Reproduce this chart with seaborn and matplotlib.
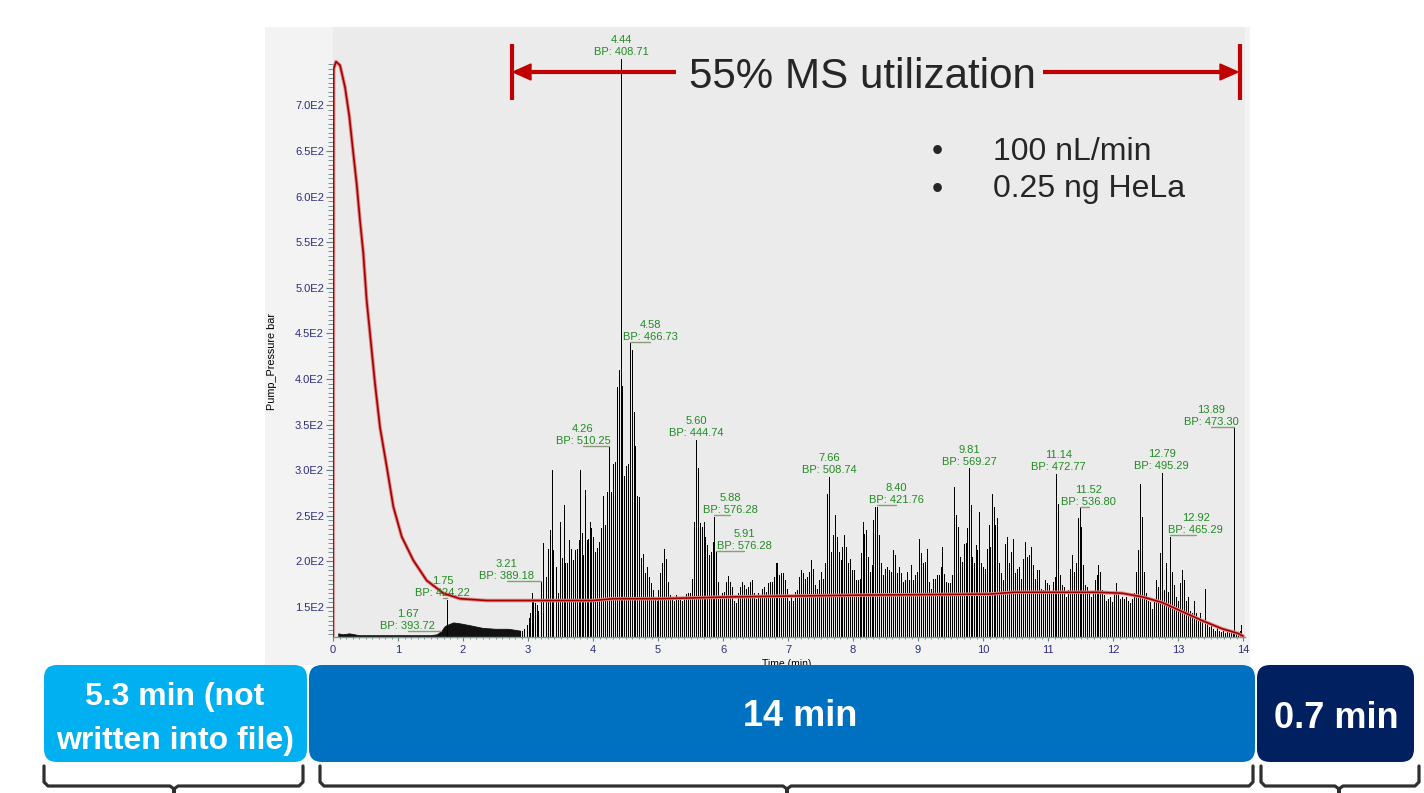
import numpy as np
import pandas as pd
import matplotlib
matplotlib.use("Agg")
import matplotlib.pyplot as plt
import seaborn as sns
from matplotlib.patches import Rectangle, FancyBboxPatch, Polygon
from matplotlib.ticker import MultipleLocator, FixedLocator, FuncFormatter

# ---------------- data ----------------
Y_MIN, Y_MAX = 117, 786
X_MAX = 14.03
Y_TICKS = [150, 200, 250, 300, 350, 400, 450, 500, 550, 600, 650, 700]
Y_MINOR_TOP = 745
X_TICKS = list(range(0, 15))

# pump pressure trace (min, bar)
PRESS_T = [0.0, 0.01, 0.046, 0.108, 0.185, 0.251, 0.313, 0.364, 0.415, 0.466, 0.518,
           0.569, 0.646, 0.723, 0.826, 0.928, 1.057, 1.236, 1.441, 1.697, 1.954, 2.364,
           2.979, 4.005, 4.313, 5.03, 6.14, 8.18, 10.09, 10.47, 11.77, 12.14, 12.45,
           12.75, 13.06, 13.37, 13.68, 13.92, 14.0]
PRESS_V = [117, 740, 748, 744, 720, 688, 647, 614, 574, 538, 486,
           450, 395, 347, 304, 260, 227, 201, 179, 165, 159, 157,
           157, 157, 159, 159, 161, 163, 164, 166, 166, 165, 161,
           155, 145, 135, 126, 121, 118]

# early low-level signal (0 - 2.9 min)
EARLY_T = [0.08, 0.15, 0.25, 0.4, 0.6, 0.8, 1.0, 1.2, 1.4, 1.5, 1.6, 1.67, 1.72,
           1.78, 1.85, 1.95, 2.1, 2.3, 2.5, 2.7, 2.877]
EARLY_V = [121, 120, 121, 119, 119, 119, 119, 119, 119, 119, 120, 124, 129,
           131, 133, 132, 130, 127, 126, 126, 124]
EARLY_SPIKE_T = [1.75]
EARLY_SPIKE_V = [158]

# chromatogram spikes, segment by segment
SPK_T_A = [2.877, 2.908, 2.938, 2.980, 3.010, 3.031, 3.056, 3.082, 3.108, 3.133, 3.159, 3.195,
           3.226, 3.277, 3.313, 3.339, 3.369, 3.390, 3.426, 3.456, 3.487, 3.518, 3.549, 3.574,
           3.605, 3.636, 3.667, 3.697, 3.728, 3.759, 3.779, 3.800, 3.826, 3.851, 3.882, 3.903,
           3.928, 3.954, 3.974, 4.005, 4.036, 4.067, 4.097, 4.128, 4.159, 4.190, 4.221, 4.246,
           4.277, 4.313, 4.344, 4.369, 4.400, 4.431, 4.451, 4.477, 4.508, 4.538, 4.569, 4.600,
           4.626, 4.651, 4.677, 4.708, 4.733, 4.764, 4.795, 4.826, 4.856, 4.887, 4.918, 4.949, 4.979]
SPK_V_A = [124, 124, 126, 130, 138, 143, 165, 155, 154, 152, 146, 177,
           220, 183, 214, 234, 300, 212, 194, 165, 243, 204, 262, 198,
           198, 223, 214, 201, 212, 214, 223, 300, 231, 207, 278, 223,
           225, 243, 237, 227, 210, 215, 221, 236, 272, 240, 276, 325,
           276, 307, 309, 391, 410, 751, 392, 294, 305, 307, 439, 432,
           364, 327, 272, 270, 204, 208, 187, 194, 183, 176, 168, 161, 157]

SPK_T_B = [5.005, 5.036, 5.062, 5.092, 5.123, 5.154, 5.185, 5.215, 5.246, 5.277, 5.313, 5.344,
           5.374, 5.405, 5.436, 5.467, 5.497, 5.528, 5.559, 5.585, 5.615, 5.641, 5.672, 5.703,
           5.728, 5.759, 5.790, 5.821, 5.846, 5.862, 5.892, 5.918, 5.949, 5.980, 6.010, 6.041,
           6.072, 6.103, 6.133, 6.164, 6.195, 6.226, 6.256, 6.287, 6.318, 6.349, 6.379, 6.410,
           6.441, 6.472, 6.503, 6.533, 6.564, 6.595, 6.626, 6.656, 6.687, 6.718, 6.749, 6.780,
           6.810, 6.836, 6.862, 6.892, 6.923, 6.954, 6.985]
SPK_V_B = [168, 187, 198, 213, 203, 177, 163, 161, 157, 163, 159, 161,
           157, 159, 164, 165, 165, 181, 243, 333, 302, 242, 238, 243,
           227, 218, 207, 210, 221, 249, 210, 177, 161, 165, 166, 177,
           184, 177, 172, 157, 154, 165, 172, 177, 174, 170, 172, 177,
           179, 165, 159, 165, 161, 170, 172, 166, 176, 177, 177, 183,
           198, 198, 185, 187, 187, 179, 170]

SPK_T_C = [7.015, 7.046, 7.077, 7.108, 7.138, 7.169, 7.200, 7.231, 7.262, 7.292, 7.323, 7.354,
           7.385, 7.415, 7.446, 7.477, 7.508, 7.538, 7.569, 7.600, 7.631, 7.656, 7.687, 7.718,
           7.749, 7.780, 7.810, 7.836, 7.862, 7.887, 7.918, 7.949, 7.980, 8.010, 8.041, 8.072,
           8.103, 8.128, 8.149, 8.174, 8.200, 8.226, 8.256, 8.287, 8.313, 8.338, 8.369, 8.400,
           8.431, 8.462, 8.492, 8.523, 8.554, 8.585, 8.615, 8.646, 8.677, 8.708, 8.738, 8.769,
           8.800, 8.831, 8.862, 8.892, 8.923, 8.954, 8.985]
SPK_V_C = [157, 161, 157, 166, 168, 183, 190, 187, 181, 183, 188, 201,
           192, 174, 170, 179, 188, 181, 198, 274, 293, 210, 229, 251,
           227, 210, 201, 216, 229, 216, 198, 203, 190, 190, 179, 179,
           181, 209, 243, 230, 234, 205, 188, 196, 245, 260, 260, 229,
           198, 185, 192, 194, 190, 188, 212, 207, 187, 194, 187, 177,
           179, 188, 179, 196, 179, 185, 188]

SPK_T_D = [9.015, 9.046, 9.077, 9.108, 9.138, 9.169, 9.200, 9.231, 9.262, 9.292, 9.323, 9.354,
           9.374, 9.405, 9.436, 9.467, 9.497, 9.528, 9.559, 9.590, 9.621, 9.651, 9.682, 9.708,
           9.733, 9.759, 9.785, 9.810, 9.836, 9.862, 9.887, 9.913, 9.938, 9.969, 10.000, 10.031,
           10.062, 10.092, 10.113, 10.138, 10.164, 10.190, 10.215, 10.246, 10.277, 10.308, 10.338,
           10.369, 10.400, 10.431, 10.456, 10.487, 10.518, 10.549, 10.579, 10.610, 10.641, 10.672,
           10.703, 10.733, 10.764, 10.795, 10.826, 10.856, 10.887, 10.918, 10.949, 10.980]
SPK_V_D = [224, 209, 198, 199, 213, 177, 170, 181, 181, 185, 185, 194,
           216, 186, 177, 176, 176, 185, 281, 251, 238, 205, 199, 219,
           220, 236, 302, 262, 205, 198, 218, 212, 254, 198, 194, 192,
           214, 240, 216, 274, 260, 240, 247, 198, 187, 179, 219,
           227, 198, 210, 225, 187, 192, 194, 181, 203, 221, 205,
           207, 216, 196, 181, 190, 190, 170, 168, 179, 176]

SPK_T_E = [11.015, 11.046, 11.077, 11.108, 11.128, 11.154, 11.185, 11.215, 11.246, 11.277,
           11.308, 11.338, 11.369, 11.400, 11.426, 11.456, 11.487, 11.513, 11.538, 11.569,
           11.600, 11.631, 11.662, 11.692, 11.723, 11.754, 11.774, 11.805, 11.836, 11.867,
           11.897, 11.928, 11.959, 11.990, 12.021, 12.046, 12.072, 12.103, 12.133, 12.164,
           12.195, 12.226, 12.256, 12.287, 12.318, 12.349, 12.380, 12.410, 12.441, 12.472,
           12.503, 12.533, 12.564, 12.595, 12.626, 12.656, 12.687, 12.718, 12.749, 12.780,
           12.810, 12.841, 12.872, 12.903, 12.933, 12.964, 12.995]
SPK_V_E = [174, 166, 177, 183, 296, 263, 185, 174, 172, 161,
           168, 192, 207, 188, 198, 247, 258, 238, 196, 174,
           172, 165, 161, 165, 179, 185, 196, 188, 168, 163,
           157, 159, 161, 155, 165, 176, 163, 159, 161, 159,
           161, 157, 154, 159, 165, 188, 212, 285, 249, 188,
           165, 157, 155, 148, 157, 179, 172, 209, 297, 168,
           198, 166, 227, 188, 174, 161, 157]

SPK_T_F = [13.031, 13.062, 13.092, 13.123, 13.154, 13.185, 13.215, 13.246, 13.277, 13.308,
           13.338, 13.369, 13.410, 13.441, 13.472, 13.503, 13.533, 13.564, 13.595, 13.626,
           13.656, 13.687, 13.718, 13.749, 13.779, 13.810, 13.841, 13.867, 13.892, 13.923,
           13.954, 13.974]
SPK_V_F = [176, 190, 179, 157, 161, 146, 143, 157, 143, 135,
           143, 134, 170, 132, 128, 130, 126, 124, 128, 124,
           123, 124, 121, 123, 121, 121, 124, 346, 121, 119,
           124, 130]

# peak annotations
LAB_RT = [1.67, 1.75, 3.21, 4.26, 4.44, 4.58, 5.60, 5.88, 5.91, 7.66, 8.40, 9.81,
          11.14, 11.52, 12.79, 12.92, 13.89]
LAB_BP = ["393.72", "424.22", "389.18", "510.25", "408.71", "466.73", "444.74", "576.28",
          "576.28", "508.74", "421.76", "569.27", "472.77", "536.80", "495.29", "465.29", "473.30"]
LAB_PEAK_T = [1.66, 1.75, 3.195, 4.246, 4.431, 4.569, 5.585, 5.862, 5.892, 7.631, 8.369, 9.785,
              11.128, 11.487, 12.749, 12.872, 13.867]
LAB_PEAK_V = [122, 158, 177, 325, 751, 439, 333, 249, 210, 293, 260, 302,
              296, 258, 297, 227, 346]

TITLE = "55% MS utilization"
BULLETS = ["100 nL/min", "0.25 ng HeLa"]
BOX_TEXT_1 = ["5.3 min (not", "written into file)"]
BOX_TEXT_2 = "14 min"
BOX_TEXT_3 = "0.7 min"
Y_LABEL = "Pump_Pressure bar"
X_LABEL = "Time (min)"

# ---------------- layout / style ----------------
LAB_DX_PX = [-33, -4, -34, -26, 0, 20, 0, 16, 28, 0, 19, 0, 2, 9, 0, 26, -23]

sns.set_style("white")
plt.rcParams["font.family"] = ["Liberation Sans", "DejaVu Sans"]

W, H = 1424, 793
fig = plt.figure(figsize=(W / 100, H / 100), dpi=100)
fig.patch.set_facecolor("white")


def fx(x):
    return x / W


def fy(y):
    return 1 - y / H


panel = Rectangle((fx(265), fy(665)), (1250 - 265) / W, (665 - 27) / H,
                  transform=fig.transFigure, facecolor="#f3f3f3", edgecolor="none", zorder=-1)
fig.add_artist(panel)

AX_W_PX = 912
ax = fig.add_axes([fx(333), fy(637), AX_W_PX / W, 610 / H])
ax.set_facecolor("#ebebeb")
ax.set_zorder(1)

# chromatogram
ax.fill_between(EARLY_T, Y_MIN, EARLY_V, color="#111111", lw=0.6, zorder=2)
ax.vlines(EARLY_SPIKE_T, Y_MIN, EARLY_SPIKE_V, colors="black", lw=0.5,
          antialiased=False, zorder=2)
for ts, vs in [(SPK_T_A, SPK_V_A), (SPK_T_B, SPK_V_B), (SPK_T_C, SPK_V_C),
               (SPK_T_D, SPK_V_D), (SPK_T_E, SPK_V_E), (SPK_T_F, SPK_V_F)]:
    ax.vlines(ts, Y_MIN, vs, colors="black", lw=0.5, antialiased=False, zorder=2)

# pressure curve
pdf = pd.DataFrame({"t": PRESS_T, "p": PRESS_V})
sns.lineplot(data=pdf, x="t", y="p", ax=ax, color="#e08a8a", lw=2.6, sort=False,
             estimator=None, zorder=3)
sns.lineplot(data=pdf, x="t", y="p", ax=ax, color="#a30000", lw=1.2, sort=False,
             estimator=None, zorder=4)
ax.set_xlabel("")
ax.set_ylabel("")

ax.set_xlim(0, X_MAX)
ax.set_ylim(Y_MIN, Y_MAX)
ax.xaxis.set_major_locator(FixedLocator(X_TICKS))
ax.xaxis.set_minor_locator(MultipleLocator(0.1))
ax.yaxis.set_major_locator(FixedLocator(Y_TICKS))
ax.yaxis.set_minor_locator(FixedLocator(list(range(120, Y_MINOR_TOP + 1, 5))))
ax.yaxis.set_major_formatter(FuncFormatter(lambda v, p: f"{v / 100:.1f}E2"))
ax.tick_params(axis="both", which="both", direction="out", colors="#5f8585",
               labelcolor="#2d2d80", labelsize=8, left=True, bottom=True)
ax.tick_params(axis="y", which="major", length=5, width=0.8, pad=1.5)
ax.tick_params(axis="y", which="minor", length=3.5, width=0.6)
ax.tick_params(axis="x", which="major", length=3, width=0.8, pad=3)
ax.tick_params(axis="x", which="minor", length=1.5, width=0.6)
for s in ["top", "right", "left"]:
    ax.spines[s].set_visible(False)
ax.spines["bottom"].set_color("#7a9a9a")
ax.spines["bottom"].set_linewidth(1.0)

# peak labels
min_per_px = X_MAX / AX_W_PX
for rt, bp, pt, pv, dx in zip(LAB_RT, LAB_BP, LAB_PEAK_T, LAB_PEAK_V, LAB_DX_PX):
    ax.annotate(f"{rt:.2f}\nBP: {bp}", xy=(pt, pv), xytext=(dx * 0.72, 1.2),
                textcoords="offset points", ha="center", va="bottom", fontsize=8,
                color="#228b22", linespacing=1.25, zorder=6, annotation_clip=False)
    if abs(dx) > 3:
        ax.plot([pt, pt + dx * min_per_px], [pv + 1.5, pv + 1.5], color="#8c9c7a",
                lw=1.0, zorder=5)

# ---------------- overlay (pixel coordinates) ----------------
ov = fig.add_axes([0, 0, 1, 1])
ov.set_zorder(10)
ov.set_xlim(0, W)
ov.set_ylim(H, 0)
ov.axis("off")
ov.patch.set_alpha(0)

RED = "#c00000"
DARK = "#262626"

ov.text(272, 362, Y_LABEL, rotation=90, ha="center", va="center", fontsize=7.8, color="black")
ov.text(787, 664, X_LABEL, ha="center", va="center", fontsize=7.5, color="black", zorder=1)

# utilization arrow
ov.text(862.5, 88, TITLE, ha="center", va="baseline", fontsize=30.3, color=DARK)
ov.plot([512, 512], [44, 100], color=RED, lw=3.0, solid_capstyle="butt")
ov.plot([1240, 1240], [44, 100], color=RED, lw=3.0, solid_capstyle="butt")
ov.plot([528, 676], [72, 72], color=RED, lw=3.0, solid_capstyle="butt")
ov.plot([1043, 1223], [72, 72], color=RED, lw=3.0, solid_capstyle="butt")
ov.add_patch(Polygon([(513, 72), (531, 64), (531, 80)], closed=True, color=RED))
ov.add_patch(Polygon([(1238, 72), (1220, 64), (1220, 80)], closed=True, color=RED))

# bullets
for txt, base in zip(BULLETS, [159.5, 197.5]):
    ov.text(937, base, "\u2022", ha="center", va="baseline", fontsize=23, color=DARK)
    ov.text(993, base, txt, ha="left", va="baseline", fontsize=23, color=DARK)

# bottom boxes
boxes = [(44, 307, "#00b0f0"), (309, 1255, "#0070c0"), (1257, 1414, "#002060")]
for x0, x1, col in boxes:
    ov.add_patch(FancyBboxPatch((x0, 665), x1 - x0, 97,
                                boxstyle="round,pad=0,rounding_size=13",
                                facecolor=col, edgecolor="none", zorder=3))
ov.text(175, 705.5, BOX_TEXT_1[0], ha="center", va="baseline", fontsize=23,
        fontweight="bold", color="white", zorder=4)
ov.text(175, 749.5, BOX_TEXT_1[1], ha="center", va="baseline", fontsize=23,
        fontweight="bold", color="white", zorder=4)
ov.text(800, 726, BOX_TEXT_2, ha="center", va="baseline", fontsize=26,
        fontweight="bold", color="white", zorder=4)
ov.text(1336, 728, BOX_TEXT_3, ha="center", va="baseline", fontsize=26,
        fontweight="bold", color="white", zorder=4)

# braces
for x0, x1, xc in [(44, 303, 174), (320, 1253, 787), (1261, 1419, 1339)]:
    xs = [x0, x0, x0 + 4, xc - 4, xc, xc, xc, xc + 4, x1 - 4, x1, x1]
    ys = [766, 782, 786, 786, 789, 800, 789, 786, 786, 782, 766]
    ov.plot(xs, ys, color="#2f2f2f", lw=2.3, solid_joinstyle="round", zorder=3)

fig.savefig("out.png", dpi=100)
